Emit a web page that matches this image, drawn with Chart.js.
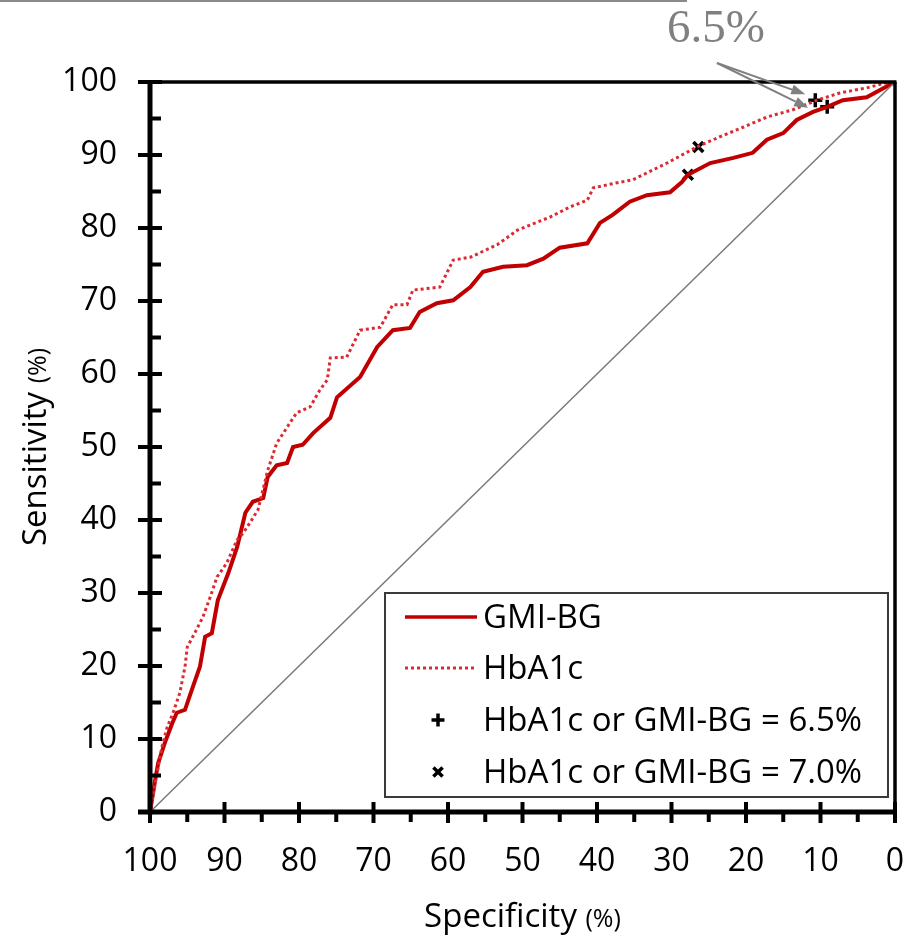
<!DOCTYPE html>
<html>
<head>
<meta charset="utf-8">
<script src="https://cdn.jsdelivr.net/npm/chart.js@4.4.1/dist/chart.umd.min.js"></script>
<style>
  html, body { margin: 0; padding: 0; background: #fff; }
  #wrap { width: 910px; height: 936px; position: relative; }
</style>
</head>
<body>
<div id="wrap"><canvas id="roc_canvas"></canvas></div>
<script>
// ROC curves, specificity runs 100 -> 0 on x
var specGMI = [100, 99.3, 98.9, 98.0, 97.0, 96.4, 95.3, 94.4, 93.3, 92.6, 91.7, 90.9, 89.5, 88.3, 87.2, 86.2,
    84.8, 84.2, 83.0, 81.6, 80.8, 79.5, 78.1, 75.8, 74.9, 71.8, 69.5, 67.4, 65.1, 63.8, 61.5, 59.3, 57.0, 55.3,
    52.6, 49.4, 47.2, 45.0, 41.3, 39.6, 37.9, 35.6, 33.3, 30.2, 28.6, 27.8, 24.8, 21.7, 19.1, 17.2, 15.0, 13.2,
    11.0, 9.1, 7.0, 3.8, 2.0, 0];
var sensGMI = [0, 4.4, 6.7, 9.5, 12.2, 13.6, 14.0, 16.7, 19.9, 24.0, 24.5, 29.0, 32.7, 36.3, 41.0, 42.5,
    43.0, 45.9, 47.5, 47.8, 50.0, 50.3, 51.9, 54.0, 56.8, 59.6, 63.7, 66.0, 66.3, 68.5, 69.7, 70.1, 71.9, 74.0,
    74.7, 74.9, 75.8, 77.3, 77.9, 80.7, 81.8, 83.6, 84.5, 84.9, 86.3, 87.3, 88.9, 89.6, 90.3, 92.1, 93.0, 94.8,
    95.9, 96.6, 97.5, 97.9, 98.9, 100];

var specHbA1c = [100, 99.1, 98.4, 97.7, 96.9, 96.0, 95.3, 95.0, 94.0, 92.9, 91.9, 91.0, 89.7, 88.3, 87.5, 86.6,
    85.5, 84.2, 83.0, 81.6, 80.3, 78.5, 77.2, 76.2, 75.8, 73.6, 71.8, 69.1, 67.4, 65.5, 64.7, 61.1, 59.3, 57.0,
    53.4, 50.7, 46.3, 43.6, 41.3, 40.5, 37.3, 35.2, 30.6, 26.6, 23.5, 20.4, 17.2, 13.7, 10.5, 7.4, 3.8, 1.1, 0];
var sensHbA1c = [0, 5.1, 8.9, 11.6, 13.6, 16.3, 19.9, 22.6, 24.5, 26.7, 29.5, 32.2, 34.1, 37.3, 38.2, 39.6,
    41.4, 46.8, 50.5, 52.7, 54.7, 55.5, 57.8, 59.2, 62.2, 62.3, 66.0, 66.4, 69.5, 69.5, 71.5, 71.9, 75.6, 76.0,
    77.7, 79.7, 81.5, 82.9, 83.8, 85.5, 86.2, 86.6, 88.9, 91.1, 92.5, 93.8, 95.2, 96.2, 97.5, 98.5, 99.2, 99.9, 100];

// cut-offs: [HbA1c, GMI-BG]
var specCut65 = [10.7, 9.1];
var sensCut65 = [97.5, 96.6];
var specCut70 = [26.4, 27.8];
var sensCut70 = [91.1, 87.3];

var specChance = [100, 0];
var sensChance = [0, 100];

var majorTicks = [0, 10, 20, 30, 40, 50, 60, 70, 80, 90, 100];
var minorTicks = [5, 15, 25, 35, 45, 55, 65, 75, 85, 95];

var legendLabels = ['GMI-BG', 'HbA1c', 'HbA1c or GMI-BG = 6.5%', 'HbA1c or GMI-BG = 7.0%'];
var noteLabel = '6.5%';

function pts(xs, ys) {
    return xs.map(function (x, i) { return {x: x, y: ys[i]}; });
}

var FONT = '"Open Sans", "Noto Sans", sans-serif';
var darkRed = '#C00000';
var lightRed = '#DC2A32';

function line(ctx, x1, y1, x2, y2) {
    ctx.beginPath();
    ctx.moveTo(x1, y1);
    ctx.lineTo(x2, y2);
    ctx.stroke();
}

function arrow(ctx, x1, y1, x2, y2) {
    var a = Math.atan2(y2 - y1, x2 - x1);
    var len = 14, half = 5;
    var bx = x2 - len * Math.cos(a), by = y2 - len * Math.sin(a);
    line(ctx, x1, y1, bx, by);
    ctx.beginPath();
    ctx.moveTo(x2, y2);
    ctx.lineTo(bx + half * Math.sin(a), by - half * Math.cos(a));
    ctx.lineTo(bx - half * Math.sin(a), by + half * Math.cos(a));
    ctx.closePath();
    ctx.fill();
}

var decor = {
    id: 'decor',
    afterDatasetsDraw: function (chart) {
        var ctx = chart.ctx, ca = chart.chartArea;
        var xs = chart.scales.x, ys = chart.scales.y;
        ctx.save();
        ctx.strokeStyle = '#000';
        ctx.lineCap = 'butt';

        // frame top / right
        ctx.lineWidth = 3.5;
        line(ctx, ca.left, ca.top, ca.right + 1.5, ca.top);
        line(ctx, ca.right, ca.top, ca.right, ca.bottom + 2);

        // ticks
        ctx.lineWidth = 4;
        majorTicks.forEach(function (v) {
            var py = ys.getPixelForValue(v);
            line(ctx, ca.left - 12, py, ca.left + 12, py);
            var px = xs.getPixelForValue(v);
            line(ctx, px, ca.bottom - 10, px, ca.bottom + 11);
        });
        minorTicks.forEach(function (v) {
            var py = ys.getPixelForValue(v);
            line(ctx, ca.left, py, ca.left + 11, py);
            var px = xs.getPixelForValue(v);
            line(ctx, px, ca.bottom, px, ca.bottom + 10);
        });

        // main axes
        ctx.lineWidth = 5;
        line(ctx, ca.left, ca.top - 1, ca.left, ca.bottom + 2.5);
        line(ctx, ca.left - 12, ca.bottom, ca.right + 2, ca.bottom);

        // axis titles
        ctx.fillStyle = '#000';
        ctx.textBaseline = 'alphabetic';
        ctx.textAlign = 'left';
        var big = '33px ' + FONT, small = '25px ' + FONT;
        ctx.font = big;
        var w1 = ctx.measureText('Specificity ').width;
        ctx.font = small;
        var w2 = ctx.measureText('(%)').width;
        var cx = (ca.left + ca.right) / 2;
        ctx.font = big;
        ctx.fillText('Specificity ', cx - (w1 + w2) / 2, 927);
        ctx.font = small;
        ctx.fillText('(%)', cx - (w1 + w2) / 2 + w1, 927);

        ctx.font = big;
        var h1 = ctx.measureText('Sensitivity ').width;
        ctx.save();
        ctx.translate(46, (ca.top + ca.bottom) / 2);
        ctx.rotate(-Math.PI / 2);
        ctx.fillText('Sensitivity ', -(h1 + w2) / 2, 0);
        ctx.font = small;
        ctx.fillText('(%)', -(h1 + w2) / 2 + h1, 0);
        ctx.restore();

        // legend box
        var bl = ca.left + 235, bt = ca.top + 511, br = ca.right - 7, bb = ca.bottom - 15;
        ctx.fillStyle = '#fff';
        ctx.fillRect(bl, bt, br - bl, bb - bt);
        ctx.strokeStyle = '#3a3a3a';
        ctx.lineWidth = 2;
        ctx.strokeRect(bl, bt, br - bl, bb - bt);

        var rows = [bt + 24, bt + 75, bt + 127, bt + 179];
        ctx.lineWidth = 3.5;
        ctx.strokeStyle = darkRed;
        line(ctx, bl + 20, rows[0], bl + 92, rows[0]);
        ctx.lineWidth = 3;
        ctx.strokeStyle = lightRed;
        ctx.setLineDash([3, 3]);
        line(ctx, bl + 20, rows[1], bl + 92, rows[1]);
        ctx.setLineDash([]);
        ctx.strokeStyle = '#000';
        ctx.lineWidth = 3.5;
        Chart.helpers.drawPoint(ctx, {pointStyle: 'cross', radius: 6.5, borderWidth: 3.5}, bl + 53, rows[2]);
        Chart.helpers.drawPoint(ctx, {pointStyle: 'crossRot', radius: 6.5, borderWidth: 3.5}, bl + 53, rows[3]);

        ctx.fillStyle = '#000';
        ctx.font = '33px ' + FONT;
        legendLabels.forEach(function (t, i) {
            ctx.fillText(t, bl + 98, rows[i] + 11);
        });

        // note "6.5%" with arrows to the 6.5% cut-offs
        ctx.fillStyle = '#808080';
        ctx.strokeStyle = '#808080';
        ctx.font = '47px "Liberation Serif", "DejaVu Serif", serif';
        ctx.fillText(noteLabel, 667, 42);
        ctx.lineWidth = 2;
        var p1x = xs.getPixelForValue(specCut65[0]), p1y = ys.getPixelForValue(sensCut65[0]);
        var p2x = xs.getPixelForValue(specCut65[1]), p2y = ys.getPixelForValue(sensCut65[1]);
        arrow(ctx, 717, 63, p1x - 10, p1y - 6);
        arrow(ctx, 717, 63, p2x - 19, p2y + 1);

        // thin border remnant at the top
        ctx.strokeStyle = '#8a8a8a';
        ctx.lineWidth = 2;
        line(ctx, 0, 1, 687, 1);
        ctx.restore();
    }
};

var canvas = document.getElementById('roc_canvas');

var chart = new Chart(canvas, {
    type: 'scatter',
    data: {
        datasets: [{
            label: 'Chance',
            data: pts(specChance, sensChance),
            showLine: true,
            borderColor: '#7a7a7a',
            borderWidth: 1.5,
            pointRadius: 0
        }, {
            label: legendLabels[1],
            data: pts(specHbA1c, sensHbA1c),
            showLine: true,
            borderColor: lightRed,
            borderWidth: 3,
            borderDash: [3, 3],
            pointRadius: 0
        }, {
            label: legendLabels[0],
            data: pts(specGMI, sensGMI),
            showLine: true,
            borderColor: darkRed,
            borderWidth: 4,
            pointRadius: 0
        }, {
            label: legendLabels[2],
            data: pts(specCut65, sensCut65),
            pointStyle: 'cross',
            pointRadius: 7,
            borderWidth: 3.5,
            borderColor: '#000'
        }, {
            label: legendLabels[3],
            data: pts(specCut70, sensCut70),
            pointStyle: 'crossRot',
            pointRadius: 7,
            borderWidth: 3.5,
            borderColor: '#000'
        }]
    },
    options: {
        responsive: true,
        maintainAspectRatio: false,
        animation: false,
        events: [],
        layout: {
            padding: {top: 82, right: 15, left: 0, bottom: 0}
        },
        scales: {
            x: {
                type: 'linear',
                reverse: true,
                min: 0,
                max: 100,
                afterFit: function (s) { s.height = 124; },
                afterBuildTicks: function (s) { s.ticks = majorTicks.map(function (v) { return {value: v}; }); },
                ticks: {
                    autoSkip: false,
                    maxRotation: 0,
                    padding: 31,
                    color: '#000',
                    font: {family: FONT, size: 32}
                },
                grid: {display: false, drawTicks: false},
                border: {display: false}
            },
            y: {
                type: 'linear',
                min: 0,
                max: 100,
                afterFit: function (s) { s.width = 150; },
                afterBuildTicks: function (s) { s.ticks = majorTicks.map(function (v) { return {value: v}; }); },
                ticks: {
                    autoSkip: false,
                    padding: 33,
                    color: '#000',
                    font: {family: FONT, size: 32}
                },
                grid: {display: false, drawTicks: false},
                border: {display: false}
            }
        },
        plugins: {
            legend: {display: false},
            tooltip: {enabled: false}
        }
    },
    plugins: [decor]
});
</script>
</body>
</html>
